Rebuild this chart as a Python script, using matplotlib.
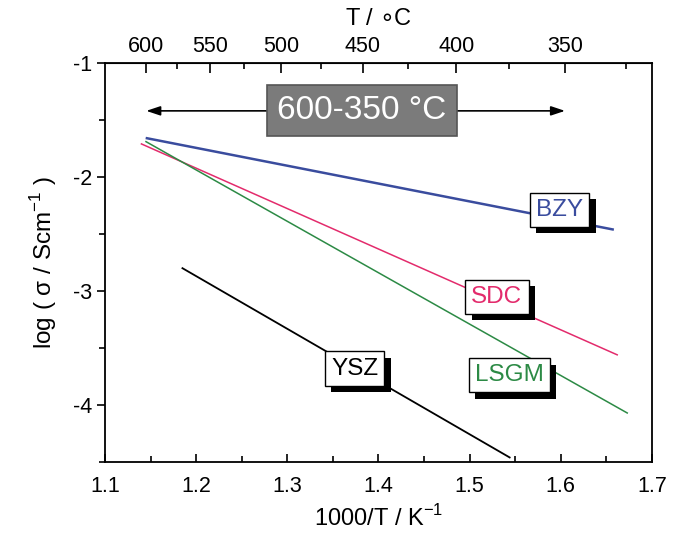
import numpy as np
import matplotlib
matplotlib.use("Agg")
import matplotlib.pyplot as plt
import matplotlib.patheffects as pe

plt.rcParams['font.family'] = ['Liberation Sans', 'DejaVu Sans']

# line end points: (1000/T, log sigma)
bzy_x = [1.146, 1.657]
bzy_y = [-1.66, -2.46]
sdc_x = [1.140, 1.662]
sdc_y = [-1.71, -3.56]
lsgm_x = [1.145, 1.673]
lsgm_y = [-1.69, -4.07]
ysz_x = [1.185, 1.544]
ysz_y = [-2.80, -4.46]

labels = ['BZY', 'SDC', 'LSGM', 'YSZ']
label_x = [1.599, 1.530, 1.544, 1.374]
label_y = [-2.29, -3.05, -3.74, -3.68]
colors = ['#3a4c9e', '#e32b6c', '#2c8a45', 'black']

top_major = [600, 550, 500, 450, 400, 350]
top_minor = [575, 525, 475, 425, 375, 325]

fig = plt.figure(figsize=(6.79, 5.42), dpi=100)
ax = fig.add_axes([0.1546, 0.1476, 0.8054, 0.7362])

ax.plot(bzy_x, bzy_y, color=colors[0], lw=1.8)
ax.plot(sdc_x, sdc_y, color=colors[1], lw=1.1)
ax.plot(lsgm_x, lsgm_y, color=colors[2], lw=1.1)
ax.plot(ysz_x, ysz_y, color=colors[3], lw=1.3)

ax.set_xlim(1.1, 1.7)
ax.set_ylim(-4.5, -1)
ax.set_xticks(np.arange(1.1, 1.71, 0.1))
ax.set_xticks(np.arange(1.15, 1.7, 0.1), minor=True)
ax.set_xticklabels(['1.1', '1.2', '1.3', '1.4', '1.5', '1.6', '1.7'])
ax.set_yticks([-4, -3, -2, -1])
ax.set_yticks([-4.5, -3.5, -2.5, -1.5], minor=True)
ax.set_yticklabels(['-4', '-3', '-2', '-1'])
ax.tick_params(axis='x', which='both', direction='in', top=False, labelsize=15.5, pad=10)
ax.tick_params(axis='x', which='major', length=6, width=1.2)
ax.tick_params(axis='x', which='minor', length=4, width=1.2)
ax.tick_params(axis='y', which='both', direction='out', right=False, labelsize=15.5)
ax.tick_params(axis='y', which='major', length=6, width=1.2)
ax.tick_params(axis='y', which='minor', length=4, width=1.2)
for s in ax.spines.values():
    s.set_linewidth(1.3)

ax.set_xlabel('1000/T / K$^{\\mathregular{-1}}$', fontsize=17, labelpad=6)
ax.set_ylabel('log ( σ / Scm$^{\\mathregular{-1}}$ )', fontsize=17.5, labelpad=10)

# top axis in degrees C
def inv_to_c(x):
    return 1000.0 / np.asarray(x, dtype=float) - 273.15

def c_to_inv(t):
    return 1000.0 / (np.asarray(t, dtype=float) + 273.15)

top = ax.secondary_xaxis('top', functions=(inv_to_c, c_to_inv))
top.set_xticks(top_major)
top.set_xticks(top_minor, minor=True)
top.set_xticklabels([str(t) for t in top_major])
top.tick_params(which='both', direction='in', labelsize=15.5, pad=4)
top.tick_params(which='major', length=7, width=1.2)
top.tick_params(which='minor', length=4, width=1.2)
top.set_xlabel('T / $\\circ$C', fontsize=17, labelpad=8)

# range arrow and gray box
ax.annotate('', xy=(c_to_inv(350), -1.42), xytext=(c_to_inv(600), -1.42),
            arrowprops=dict(arrowstyle='<|-|>,head_length=0.6,head_width=0.2',
                            color='black', lw=1.2, mutation_scale=14, shrinkA=0, shrinkB=0))
ax.text(1.382, -1.42, '600-350 °C', fontsize=24, color='white', ha='center', va='center',
        bbox=dict(boxstyle='square,pad=0.3', fc='#7b7b7b', ec='#555555', lw=1.2), zorder=5)

# labels with drop shadow
for name, lx, ly, c in zip(labels, label_x, label_y, colors):
    t = ax.text(lx, ly, name, fontsize=17.5, color=c, ha='center', va='center', zorder=5,
                bbox=dict(boxstyle='square,pad=0.25', fc='white', ec='black', lw=1))
    t.get_bbox_patch().set_path_effects([
        pe.SimplePatchShadow(offset=(4.5, -4.5), shadow_rgbFace='black', alpha=1.0),
        pe.Normal()])

plt.savefig('out.png', dpi=100)
